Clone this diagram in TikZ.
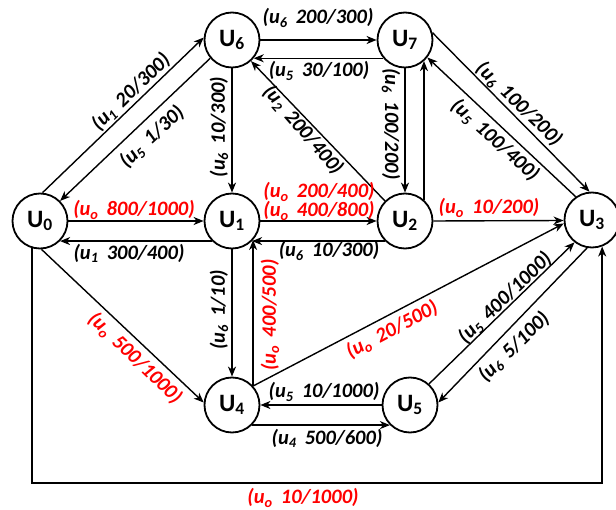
\documentclass[tikz,border=0pt]{standalone}
\usepackage{fontspec}
\setmainfont{Carlito}
\usetikzlibrary{arrows.meta}
\newcommand{\elab}[2]{(u\textsubscript{#1}\hspace{0.4em}#2)}
\begin{document}
\begin{tikzpicture}[x=1pt,y=-1pt,
  nd/.style={circle,draw,line width=1.8pt,minimum size=55pt,inner sep=0pt,font=\fontsize{25}{30}\selectfont\bfseries},
  lb/.style={inner sep=0pt,font=\fontsize{20.5}{23}\selectfont\bfseries\itshape},
  lr/.style={lb,text=red},
  arr/.style={line width=1.4pt,-{Stealth[length=10pt,width=8pt,inset=3pt]}}]
\useasboundingbox (0,0) rectangle (616,510);
% nodes
\node[nd] (U0) at (40,221) {U\textsubscript{0}};
\node[nd] (U6) at (232,40) {U\textsubscript{6}};
\node[nd] (U1) at (232,221) {U\textsubscript{1}};
\node[nd] (U2) at (405,221) {U\textsubscript{2}};
\node[nd] (U7) at (405,40) {U\textsubscript{7}};
\node[nd] (U3) at (592,220) {U\textsubscript{3}};
\node[nd] (U4) at (232,405) {U\textsubscript{4}};
\node[nd] (U5) at (410,405) {U\textsubscript{5}};
% edges
\draw[arr] (U0.85) -- (U6.175);
\draw[arr] (U6.220) -- (U0.45);
\draw[arr] (U6.-90) -- (U1.90);
\draw[arr] (U6.east) -- (U7.west);
\draw[arr] (U7.220) -- (U6.-40);
\draw[arr] (U2.135) -- (U6.-48);
\draw[arr] (U7.-90) -- (U2.90);
\draw[arr] (U2.48) -- (U2.48 |- U7.-48);
\draw[arr] (U7.15) -- (U3.95);
\draw[arr] (U3.125) -- (U7.-38);
\draw[arr] (U2.east) -- (U3.181);
\draw[arr] (U1.east) -- (U2.west);
\draw[arr] (U2.-135) -- (U1.-45);
\draw[arr] (U0.east) -- (U1.west);
\draw[arr] (U1.-135) -- (U0.-45);
\draw[arr] (U1.-90) -- (U4.90);
\draw[arr] (U4.42) -- (U4.42 |- U1.-42);
\draw[arr] (U0.-87) -- (U4.175);
\draw[arr] (U4.42) -- (U3.187);
\draw[arr] (U5.west) -- (U4.east);
\draw[arr] (U4.-45) -- (U5.-135);
\draw[arr] (U5.48) -- (U3.232);
\draw[arr] (U3.260) -- (U5.5);
\coordinate (bl) at (33,483);
\draw[arr] (U0.-106) -- (U0.-106 |- bl) -| (U3.-69);
% labels
\node[lb,rotate=44] (l1) at (131,92) {\elab{1}{20/300}};
\node[lb,rotate=43] (l2) at (152,137) {\elab{5}{1/30}};
\node[lb,rotate=90] (l3) at (219,127) {\elab{6}{10/300}};
\node[lb] (l4) at (318,18) {\elab{6}{200/300}};
\node[lb] (l5) at (319,71) {\elab{5}{30/100}};
\node[lb,rotate=-49] (l6) at (303,130) {\elab{2}{200/400}};
\node[lb,rotate=-90] (l7) at (391,124) {\elab{6}{100/200}};
\node[lb,rotate=-44] (l8) at (519,104) {\elab{6}{100/200}};
\node[lb,rotate=-42] (l9) at (495,140) {\elab{5}{100/400}};
\node[lr] (l10) at (489,208) {\elab{o}{10/200}};
\node[lr] (l11) at (319,192) {\elab{o}{200/400}};
\node[lr] (l12) at (319,211) {\elab{o}{400/800}};
\node[lb] (l13) at (329,251) {\elab{6}{10/300}};
\node[lr] (l14) at (134,210) {\elab{o}{800/1000}};
\node[lb] (l15) at (129,253) {\elab{1}{300/400}};
\node[lb,rotate=90] (l16) at (219,310) {\elab{6}{1/10}};
\node[lr,rotate=90] (l17) at (270,315) {\elab{o}{400/500}};
\node[lr,rotate=-44] (l18) at (135,358) {\elab{o}{500/1000}};
\node[lr,rotate=28] (l19) at (392,330) {\elab{o}{20/500}};
\node[lb] (l20) at (324,392) {\elab{5}{10/1000}};
\node[lb] (l21) at (327,438) {\elab{4}{500/600}};
\node[lb,rotate=44] (l22) at (505,298) {\elab{5}{400/1000}};
\node[lb,rotate=44] (l23) at (514,347) {\elab{6}{5/100}};
\node[lr] (l24) at (303,498) {\elab{o}{10/1000}};
\end{tikzpicture}
\end{document}
